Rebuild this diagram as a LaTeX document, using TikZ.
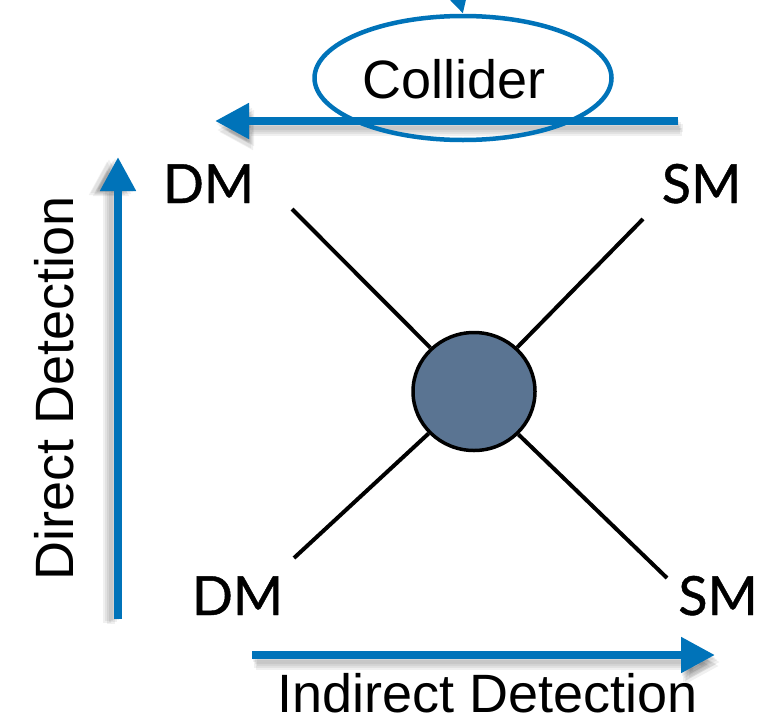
\documentclass[tikz,border=0pt]{standalone}
\usepackage{fontspec}
\setmainfont{Liberation Sans}
\newfontfamily\particlefont[FakeBold=0.8]{Lato}
\usetikzlibrary{arrows.meta,shapes.geometric}
\definecolor{axisblue}{RGB}{0,115,185}
\definecolor{blobfill}{RGB}{90,116,146}

\begin{document}
\begin{tikzpicture}[x=1pt,y=-1pt,
  axis/.style={draw=axisblue, fill=axisblue, line width=8pt,
    -{Triangle[length=34pt,width=34pt]}},
  haze/.style={draw=black, fill=black, draw opacity=0.06, fill opacity=0.06,
    line width=8pt, -{Triangle[length=34pt,width=34pt]}},
  leg/.style={line width=4pt, black},
  particle/.style={font=\particlefont\fontsize{54}{54}\selectfont, inner sep=0pt, anchor=base},
  caption/.style={font=\fontsize{54}{54}\selectfont, inner sep=0pt, anchor=base},
]
\useasboundingbox (0,0) rectangle (775,720);
\clip (0,0) rectangle (775,720);

% axis end points
\coordinate (cS) at (678,121);  \coordinate (cE) at (215,121);
\coordinate (dS) at (118,619);  \coordinate (dE) at (118,157);
\coordinate (iS) at (252,655);  \coordinate (iE) at (715,655);
\coordinate (inflow) at (448,-40);

% soft drop shadows under the axis arrows
\foreach \dx/\dy in {1/-3,3/-5,5/-7,2/-9,4/-11} {
  \draw[haze, transform canvas={xshift=\dx pt, yshift=\dy pt}] (cS) -- (cE);
  \draw[haze, transform canvas={xshift=\dx pt, yshift=\dy pt}] (iS) -- (iE);
}
\foreach \dx/\dy in {-3/-1,-5/-3,-7/-5,-9/-2,-11/-4} {
  \draw[haze, transform canvas={xshift=\dx pt, yshift=\dy pt}] (dS) -- (dE);
}

% collider ellipse with incoming arrow
\node[ellipse, draw=axisblue, line width=4.5pt, minimum width=297pt, minimum height=124pt,
  inner sep=0pt] (collider) at (463,78) {};
\node[caption] (colliderlabel) at (454.5,98) {Collider};
\draw[axis] (inflow) -- (collider.north);

% the three detection axes
\draw[axis] (cS) -- (cE);
\draw[axis] (dS) -- (dE);
\draw[axis] (iS) -- (iE);

\node[caption, rotate=90] (directlabel) at (73,388) {Direct Detection};
\node[caption] (indirectlabel) at (488,712) {Indirect Detection};

% four-point interaction
\coordinate (tl) at (292,209);
\coordinate (tr) at (643,219);
\coordinate (bl) at (294,558);
\coordinate (br) at (667,578);
\node[ellipse, draw=black, line width=3.5pt, fill=blobfill, minimum width=122pt,
  minimum height=118pt, inner sep=0pt] (blob) at (474,391.5) {};
\draw[leg] (tl) -- (blob);
\draw[leg] (tr) -- (blob);
\draw[leg] (bl) -- (blob);
\draw[leg] (br) -- (blob);

\node[particle] (dmtop) at (208.5,203) {DM};
\node[particle] (smtop) at (701.5,203) {SM};
\node[particle] (dmbot) at (237.5,615) {DM};
\node[particle] (smbot) at (718,615) {SM};
\end{tikzpicture}
\end{document}
